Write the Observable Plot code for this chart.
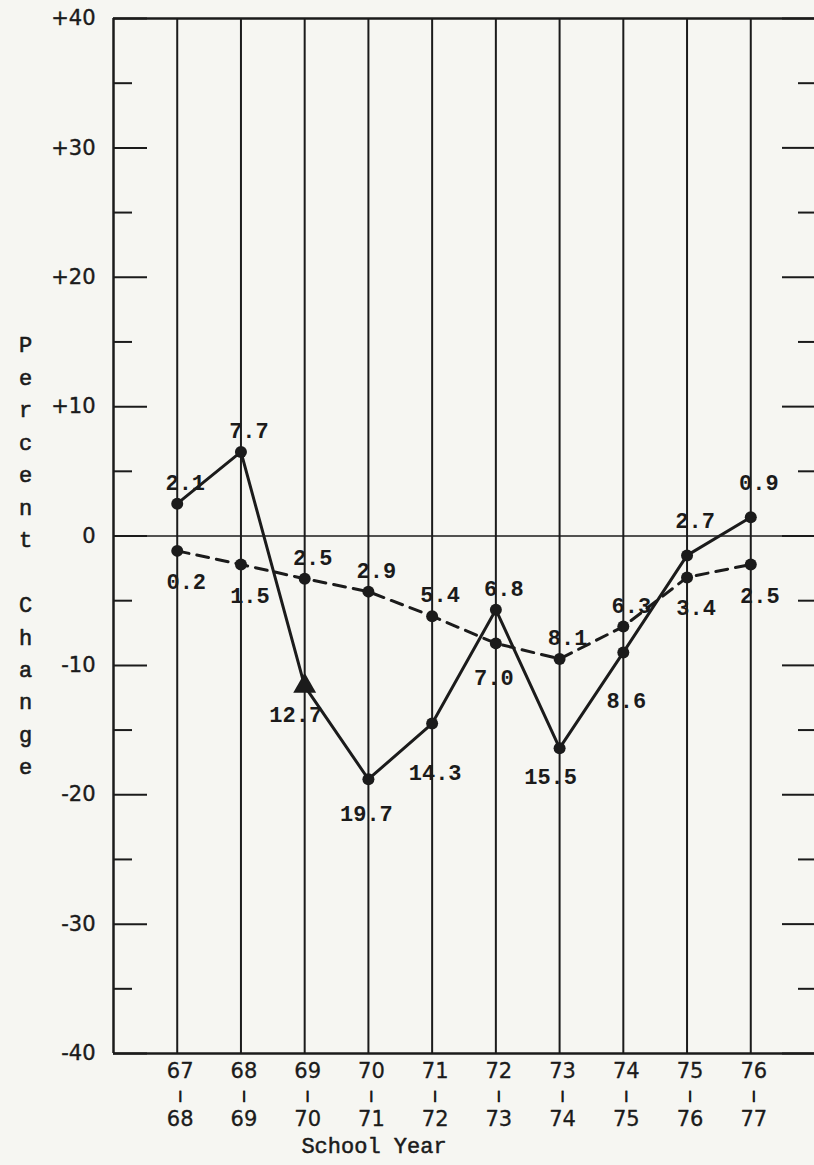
<!DOCTYPE html>
<html><head><meta charset="utf-8">
<script src="https://cdn.jsdelivr.net/npm/d3@7"></script>
<script src="https://cdn.jsdelivr.net/npm/@observablehq/plot@0.6"></script>
<style>
html,body{margin:0;padding:0;background:#f6f6f2;}
#chart svg{display:block;}
</style></head><body><div id="chart"></div>
<script>
// ---- data ----
const years = [67, 68, 69, 70, 71, 72, 73, 74, 75, 76];
const yearStart = ["67", "68", "69", "70", "71", "72", "73", "74", "75", "76"];
const yearEnd = ["68", "69", "70", "71", "72", "73", "74", "75", "76", "77"];

// solid series (plotted positions) and its printed labels
const solidValues = [2.5, 6.5, -11.6, -18.8, -14.5, -5.7, -16.4, -9.0, -1.5, 1.45];
const solidLabels = ["2.1", "7.7", "12.7", "19.7", "14.3", "6.8", "15.5", "8.6", "2.7", "0.9"];
const solidMarkers = ["circle", "circle", "triangle", "circle", "circle", "circle", "circle", "circle", "circle", "circle"];
const solidLabelSide = ["n", "n", "sw", "sc", "ss", "n", "sw", "ss", "nn", "nn"];

// dashed series and its printed labels
const dashedValues = [-1.15, -2.2, -3.3, -4.3, -6.2, -8.3, -9.5, -7.0, -3.2, -2.2];
const dashedLabels = ["0.2", "1.5", "2.5", "2.9", "5.4", "7.0", "8.1", "6.3", "3.4", "2.5"];
const dashedLabelSide = ["s", "s", "n", "n", "n", "sc", "n", "n", "s", "s"];

const yMajorTicks = [-40, -30, -20, -10, 0, 10, 20, 30, 40];
const yMinorTicks = [-35, -25, -15, -5, 5, 15, 25, 35];
const yAxisTitle = "Percent Change";
const xAxisTitle = "School Year";

// ---- build ----
const ink = "#1b1b1b";
const mono = "'Liberation Mono', 'DejaVu Sans Mono', monospace";
const sans = "'DejaVu Sans', sans-serif";
const sideOffset = {n: [8, -21], nn: [8, -34], s: [9, 31], sc: [-2, 35], sw: [-9, 29], ss: [3, 49]};

const solid = years.map((x, i) => ({x, y: solidValues[i], label: solidLabels[i], marker: solidMarkers[i], side: solidLabelSide[i]}));
const dashed = years.map((x, i) => ({x, y: dashedValues[i], label: dashedLabels[i], side: dashedLabelSide[i]}));
const yFmt = d => d > 0 ? "+" + d : d < 0 ? "-" + (-d) : "0";

function labelMarks(data) {
  return Object.keys(sideOffset).map(k => Plot.text(data.filter(d => d.side === k), {
    x: "x", y: "y", text: "label", dx: sideOffset[k][0], dy: sideOffset[k][1],
    fontFamily: mono, fontSize: 22, fontWeight: "bold", fill: ink
  }));
}

const chart = Plot.plot({
  width: 814, height: 1165,
  marginLeft: 113, marginRight: 0, marginTop: 18, marginBottom: 112,
  x: {domain: [66, 77], axis: null},
  y: {domain: [-40, 40], axis: null},
  style: {background: "#f6f6f2", color: ink, overflow: "visible"},
  marks: [
    // vertical grid lines at each school year
    Plot.ruleX(years, {stroke: ink, strokeWidth: 2}),
    // zero line
    Plot.ruleY([0], {stroke: ink, strokeWidth: 1.5}),
    // frame: top, bottom, left
    Plot.ruleY([-40, 40], {stroke: ink, strokeWidth: 2.5}),
    Plot.ruleX([66], {stroke: ink, strokeWidth: 2.5}),
    // left ticks
    Plot.tickY(yMajorTicks, {y: d => d, stroke: ink, strokeWidth: 2, insetRight: 701 - 34}),
    Plot.tickY(yMinorTicks, {y: d => d, stroke: ink, strokeWidth: 2, insetRight: 701 - 19}),
    // right ticks
    Plot.tickY(yMajorTicks, {y: d => d, stroke: ink, strokeWidth: 2, insetLeft: 701 - 32}),
    Plot.tickY(yMinorTicks, {y: d => d, stroke: ink, strokeWidth: 2, insetLeft: 701 - 16}),
    // y tick labels
    Plot.text(yMajorTicks, {y: d => d, text: yFmt, frameAnchor: "left", dx: -18, textAnchor: "end",
      fontFamily: sans, fontSize: 21, fill: ink, stroke: ink, strokeWidth: 0.4}),
    // x tick labels (two-line school years)
    Plot.text(years, {x: d => d, y: () => -40, text: (d, i) => yearStart[i], dx: 3, dy: 18,
      fontFamily: sans, fontSize: 21, fill: ink, stroke: ink, strokeWidth: 0.3}),
    Plot.text(years, {x: d => d, y: () => -40, text: () => "|", dx: 3, dy: 42,
      fontFamily: sans, fontSize: 10, fontWeight: "bold", fill: ink, stroke: ink, strokeWidth: 1}),
    Plot.text(years, {x: d => d, y: () => -40, text: (d, i) => yearEnd[i], dx: 3, dy: 66,
      fontFamily: sans, fontSize: 21, fill: ink, stroke: ink, strokeWidth: 0.3}),
    // axis titles
    Plot.text([xAxisTitle], {frameAnchor: "bottom", dx: -90, dy: 99, fontFamily: mono, fontSize: 22,
      letterSpacing: -1, fill: ink, stroke: ink, strokeWidth: 0.5}),
    Plot.text([yAxisTitle], {text: d => d.split("").join("\n"), frameAnchor: "left", textAnchor: "middle",
      dx: -88, dy: 17, lineHeight: 1.475, fontFamily: mono, fontSize: 22, fill: ink, stroke: ink, strokeWidth: 0.6}),
    // series lines
    Plot.line(dashed, {x: "x", y: "y", stroke: ink, strokeWidth: 3, strokeDasharray: "12,8"}),
    Plot.line(solid, {x: "x", y: "y", stroke: ink, strokeWidth: 3}),
    // markers
    Plot.dot(dashed, {x: "x", y: "y", r: 6, fill: ink}),
    Plot.dot(solid.filter(d => d.marker === "circle"), {x: "x", y: "y", r: 6, fill: ink}),
    Plot.dot(solid.filter(d => d.marker === "triangle"), {x: "x", y: "y", r: 8.5, symbol: "triangle", fill: ink}),
    // value labels
    ...labelMarks(solid),
    ...labelMarks(dashed)
  ]
});
document.getElementById("chart").append(chart);
</script>
</body></html>
